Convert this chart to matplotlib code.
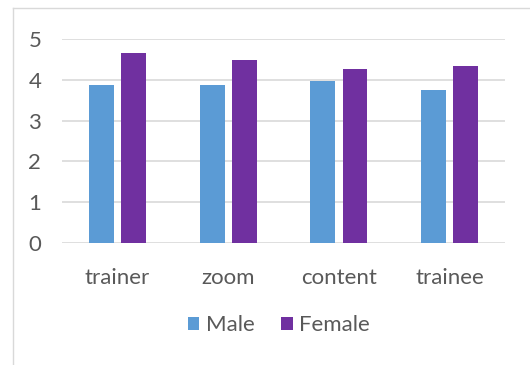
import matplotlib.pyplot as plt
import numpy as np
from matplotlib.lines import Line2D

categories = ["trainer", "zoom", "content", "trainee"]
male = [3.87, 3.87, 3.97, 3.75]
female = [4.66, 4.49, 4.26, 4.34]

plt.rcParams['font.family'] = ['Lato', 'DejaVu Sans']

fig = plt.figure(figsize=(5.3, 3.65), dpi=100)
# light frame of the chart area (left and top edges)
fx, fy = 13 / 530, 1 - 8 / 365
fig.add_artist(Line2D([fx, fx], [0, fy], transform=fig.transFigure, color="#d9d9d9", lw=1))
fig.add_artist(Line2D([fx, 1], [fy, fy], transform=fig.transFigure, color="#d9d9d9", lw=1))
ax = fig.add_axes([0.117, 0.334, 0.836, 0.559])

x = np.arange(len(categories))
w = 0.225
ax.bar(x - 0.145, male, width=w, color="#5B9BD5", label="Male", zorder=3)
ax.bar(x + 0.145, female, width=w, color="#7030A0", label="Female", zorder=3)

ax.set_ylim(0, 5)
ax.set_xlim(-0.5, 3.5)
ax.set_yticks(range(6))
ax.yaxis.grid(True, color="#d9d9d9", linewidth=1.2, zorder=0)
for s in ax.spines.values():
    s.set_visible(False)
ax.tick_params(length=0, labelsize=16, labelcolor="#595959")
ax.tick_params(axis="y", pad=15)
ax.tick_params(axis="x", pad=18)
ax.set_xticks(x, categories)

ax.legend(loc="upper center", bbox_to_anchor=(0.49, -0.255), ncol=2, frameon=False,
          fontsize=16, labelcolor="#595959", handlelength=0.5, handleheight=0.5,
          handletextpad=0.3, columnspacing=1.2)

plt.savefig("out.png")
